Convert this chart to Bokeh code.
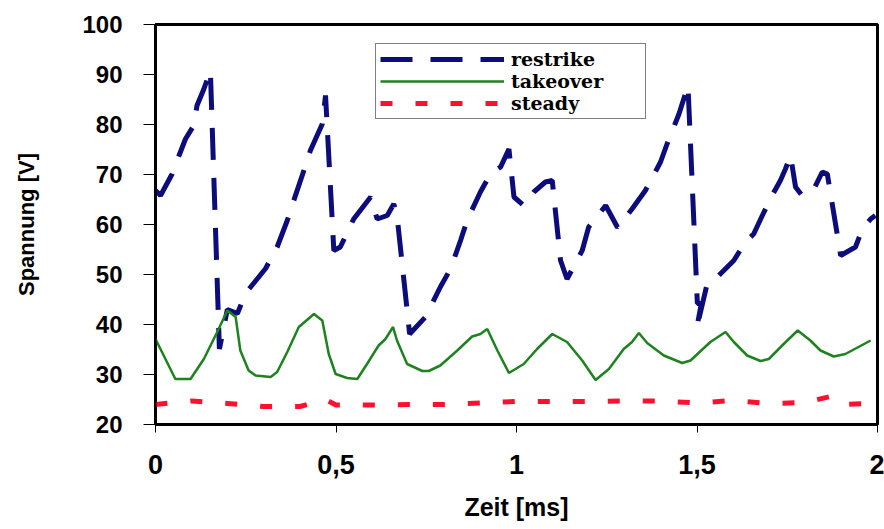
from bokeh.plotting import figure
from bokeh.models import Range1d, FixedTicker, Legend, LegendItem
from bokeh.embed import file_html
from bokeh.resources import INLINE

# ---- data ----
restrike_t = [0.000, 0.014, 0.046, 0.069, 0.083, 0.106, 0.115, 0.134, 0.152,
              0.177, 0.199, 0.227, 0.249, 0.305, 0.337, 0.365, 0.383, 0.411,
              0.429, 0.462, 0.471, 0.494, 0.512, 0.549, 0.596, 0.614, 0.642,
              0.660, 0.669, 0.704, 0.748, 0.789, 0.817, 0.845, 0.863, 0.900,
              0.928, 0.956, 0.979, 0.993, 1.020, 1.048, 1.080, 1.099, 1.122,
              1.140, 1.182, 1.200, 1.247, 1.280, 1.320, 1.357, 1.399, 1.417,
              1.450, 1.475, 1.501, 1.512, 1.499, 1.528, 1.560, 1.602, 1.634,
              1.657, 1.681, 1.708, 1.731, 1.745, 1.759, 1.773, 1.791, 1.824,
              1.847, 1.861, 1.898, 1.939, 1.958, 1.981, 1.994]
restrike_v = [66.8, 65.8, 70.1, 74.5, 77.1, 79.8, 83.8, 87.1, 90.8,
              35.1, 43.0, 42.2, 46.2, 51.2, 55.5, 60.8, 64.8, 70.8,
              74.8, 80.1, 85.8, 54.8, 55.5, 61.1, 65.5, 61.1, 61.8,
              64.1, 61.8, 38.1, 41.5, 47.5, 51.1, 56.8, 60.8, 66.5,
              70.1, 71.5, 75.1, 65.5, 63.8, 66.5, 68.5, 68.8, 52.8,
              49.1, 54.8, 59.5, 63.8, 59.4, 63.1, 66.8, 72.5, 76.1,
              82.1, 87.8, 44.2, 44.2, 39.2, 48.1, 49.8, 52.8, 56.5,
              58.1, 61.8, 65.8, 68.8, 71.1, 73.8, 67.5, 65.8, 67.1,
              70.5, 70.1, 53.8, 55.5, 59.1, 61.1, 61.8]

takeover_t = [0.000, 0.055, 0.097, 0.134, 0.171, 0.199, 0.222, 0.235, 0.258,
              0.277, 0.319, 0.337, 0.365, 0.397, 0.439, 0.462, 0.480, 0.499,
              0.531, 0.559, 0.586, 0.618, 0.637, 0.658, 0.669, 0.697, 0.739,
              0.757, 0.789, 0.836, 0.877, 0.900, 0.919, 0.947, 0.979, 1.020,
              1.057, 1.099, 1.140, 1.182, 1.219, 1.256, 1.297, 1.320, 1.339,
              1.362, 1.408, 1.459, 1.482, 1.537, 1.579, 1.602, 1.639, 1.676,
              1.699, 1.740, 1.779, 1.814, 1.842, 1.879, 1.911, 1.981]
takeover_v = [37.1, 29.1, 29.1, 33.1, 38.5, 42.8, 41.5, 34.8, 30.8,
              29.8, 29.5, 30.5, 34.5, 39.5, 42.1, 40.8, 34.1, 30.1,
              29.3, 29.1, 32.1, 35.8, 37.1, 39.5, 36.8, 32.1, 30.7,
              30.7, 31.8, 34.8, 37.6, 38.1, 39.1, 34.8, 30.3, 32.1,
              35.1, 38.1, 36.5, 32.8, 28.9, 31.1, 35.1, 36.5, 38.3,
              36.3, 33.8, 32.3, 32.8, 36.5, 38.5, 36.5, 33.8, 32.7,
              33.1, 36.1, 38.8, 36.8, 34.8, 33.6, 34.1, 36.8]

steady_t = [0.00, 0.10, 0.20, 0.30, 0.40, 0.47, 0.50, 0.60, 0.70, 0.80,
            0.90, 1.00, 1.10, 1.20, 1.30, 1.40, 1.50, 1.60, 1.70, 1.80,
            1.87, 1.90, 1.98]
steady_v = [24.0, 24.7, 24.2, 23.6, 23.6, 25.0, 23.9, 23.9, 24.0, 24.0,
            24.3, 24.6, 24.6, 24.6, 24.7, 24.7, 24.3, 24.8, 24.2, 24.4,
            25.6, 24.0, 24.2]

x_ticks = [0, 0.5, 1, 1.5, 2]
x_tick_labels = ["0", "0,5", "1", "1,5", "2"]
y_ticks = [20, 30, 40, 50, 60, 70, 80, 90, 100]

series_names = ["restrike", "takeover", "steady"]

# ---- figure ----
p = figure(width=884, height=529, output_backend="svg", toolbar_location=None,
           x_range=Range1d(0, 2), y_range=Range1d(20, 100),
           min_border_left=155, min_border_right=7,
           min_border_top=24, min_border_bottom=105)
p.background_fill_color = "white"
p.border_fill_color = "white"
p.grid.visible = False
p.outline_line_color = "black"
p.outline_line_width = 3

r1 = p.line(restrike_t, restrike_v, line_color="#0c0c7a", line_width=5,
            line_dash="32 18")
r2 = p.line(takeover_t, takeover_v, line_color="#1e821e", line_width=2.5)
r3 = p.line(steady_t, steady_v, line_color="#ff1030", line_width=5,
            line_dash="12 23")

# axes
p.xaxis.ticker = FixedTicker(ticks=x_ticks)
p.xaxis.major_label_overrides = {t: l for t, l in zip(x_ticks, x_tick_labels)}
p.yaxis.ticker = FixedTicker(ticks=y_ticks)
for ax in (p.xaxis, p.yaxis):
    ax.minor_tick_line_color = None
    ax.major_tick_in = 0
    ax.major_tick_line_color = "black"
    ax.major_tick_line_width = 1
    ax.axis_line_color = "black"
    ax.axis_line_width = 2
    ax.major_label_text_font = "Liberation Sans"
    ax.major_label_text_font_style = "bold"
    ax.major_label_text_color = "black"
    ax.axis_label_text_font_style = "bold"
    ax.axis_label_text_color = "black"
    ax.axis_label_text_font = "Liberation Sans"

p.xaxis.major_tick_out = 8
p.xaxis.major_label_standoff = 22
p.xaxis.major_label_text_font_size = "27px"
p.xaxis.axis_label = "Zeit [ms]"
p.xaxis.axis_label_text_font_size = "25px"
p.xaxis.axis_label_standoff = 16

p.yaxis.major_tick_out = 12
p.yaxis.major_label_standoff = 21
p.yaxis.major_label_text_font_size = "24px"
p.yaxis.axis_label = "Spannung [V]"
p.yaxis.axis_label_text_font_size = "22px"
p.yaxis.axis_label_standoff = 40

# legend
legend = Legend(items=[LegendItem(label=series_names[0], renderers=[r1]),
                       LegendItem(label=series_names[1], renderers=[r2]),
                       LegendItem(label=series_names[2], renderers=[r3])],
                location=(220, 305), margin=0, padding=4, spacing=0,
                glyph_width=124, glyph_height=20, label_height=20,
                label_width=130, label_standoff=7,
                label_text_font="DejaVu Serif", label_text_font_style="bold",
                label_text_font_size="19px", label_text_color="black",
                border_line_color="black", border_line_width=1,
                background_fill_color="white", background_fill_alpha=1)
p.add_layout(legend)

open("out.html", "w").write(file_html(p, INLINE))
